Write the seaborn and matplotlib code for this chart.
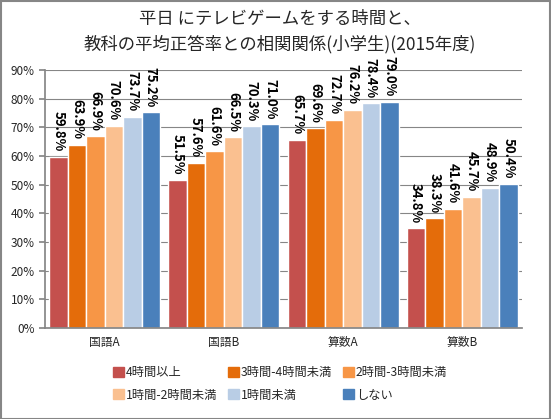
import pandas as pd
import numpy as np
import matplotlib
matplotlib.use('Agg')
import matplotlib.pyplot as plt
import seaborn as sns
from matplotlib.patches import Rectangle

subjects = ['国語A', '国語B', '算数A', '算数B']
groups = ['4時間以上', '3時間-4時間未満', '2時間-3時間未満', '1時間-2時間未満', '1時間未満', 'しない']
colors = ['#C4504D', '#E46C0A', '#F79646', '#FAC090', '#B9CDE5', '#4A80BB']

kokugo_a = [59.8, 63.9, 66.9, 70.6, 73.7, 75.2]
kokugo_b = [51.5, 57.6, 61.6, 66.5, 70.3, 71.0]
sansu_a = [65.7, 69.6, 72.7, 76.2, 78.4, 79.0]
sansu_b = [34.8, 38.3, 41.6, 45.7, 48.9, 50.4]

rows = []
for subj, vals in zip(subjects, [kokugo_a, kokugo_b, sansu_a, sansu_b]):
    for g, v in zip(groups, vals):
        rows.append({'subject': subj, 'group': g, 'value': v})
df = pd.DataFrame(rows)

sns.set_theme(style='white')
plt.rcParams['font.family'] = ['Noto Sans CJK JP', 'DejaVu Sans']

fig = plt.figure(figsize=(5.51, 4.19), dpi=100)
ax = fig.add_axes([45 / 551, (419 - 328) / 419, 477 / 551, 258 / 419])

sns.barplot(data=df, x='subject', y='value', hue='group', hue_order=groups,
            palette=colors, width=0.93, saturation=1, ax=ax, legend=False)

for c in ax.containers:
    ax.bar_label(c, labels=[f'{v:.1f}%' for v in c.datavalues], rotation=-90,
                 padding=4, fontsize=9.5, fontweight='bold', color='black')

ax.set_ylim(0, 90)
ax.set_xlim(-0.5, 3.5)
ax.set_yticks(np.arange(0, 91, 10))
ax.set_yticklabels([f'{t}%' for t in range(0, 91, 10)], fontsize=8.5)
ax.tick_params(axis='x', labelsize=8.5, length=0, pad=6)
ax.set_xticks([-0.5, 0.5, 1.5, 2.5, 3.5], minor=True)
ax.tick_params(axis='x', which='minor', length=4, color='#868686', direction='out')
ax.tick_params(axis='y', length=4, color='#868686', direction='out', left=True)
ax.yaxis.grid(True, color='#868686', linewidth=0.8)
ax.set_axisbelow(True)
ax.set_xlabel('')
ax.set_ylabel('')
for s in ['top', 'right']:
    ax.spines[s].set_visible(False)
for s in ['left', 'bottom']:
    ax.spines[s].set_color('#868686')

handles = [Rectangle((0, 0), 1, 1, color=c) for c in colors]
order = [0, 3, 1, 4, 2, 5]
fig.legend([handles[i] for i in order], [groups[i] for i in order],
           loc='center', bbox_to_anchor=(280 / 551, 1 - 384 / 419), ncol=3,
           frameon=False, fontsize=8.8, handlelength=0.9, handleheight=0.9,
           handletextpad=0.15, columnspacing=0.9, labelspacing=0.75)

fig.text(280 / 551, 1 - 19 / 419, '平日 にテレビゲームをする時間と、', ha='center', va='center', fontsize=12.5)
fig.text(280 / 551, 1 - 44 / 419, '教科の平均正答率との相関関係(小学生)(2015年度)', ha='center', va='center', fontsize=12.5)

fig.patches.append(Rectangle((0.001, 0.001), 0.997, 0.997, transform=fig.transFigure,
                             fill=False, edgecolor='#868686', linewidth=1.5))

fig.savefig('out.png', dpi=100)
